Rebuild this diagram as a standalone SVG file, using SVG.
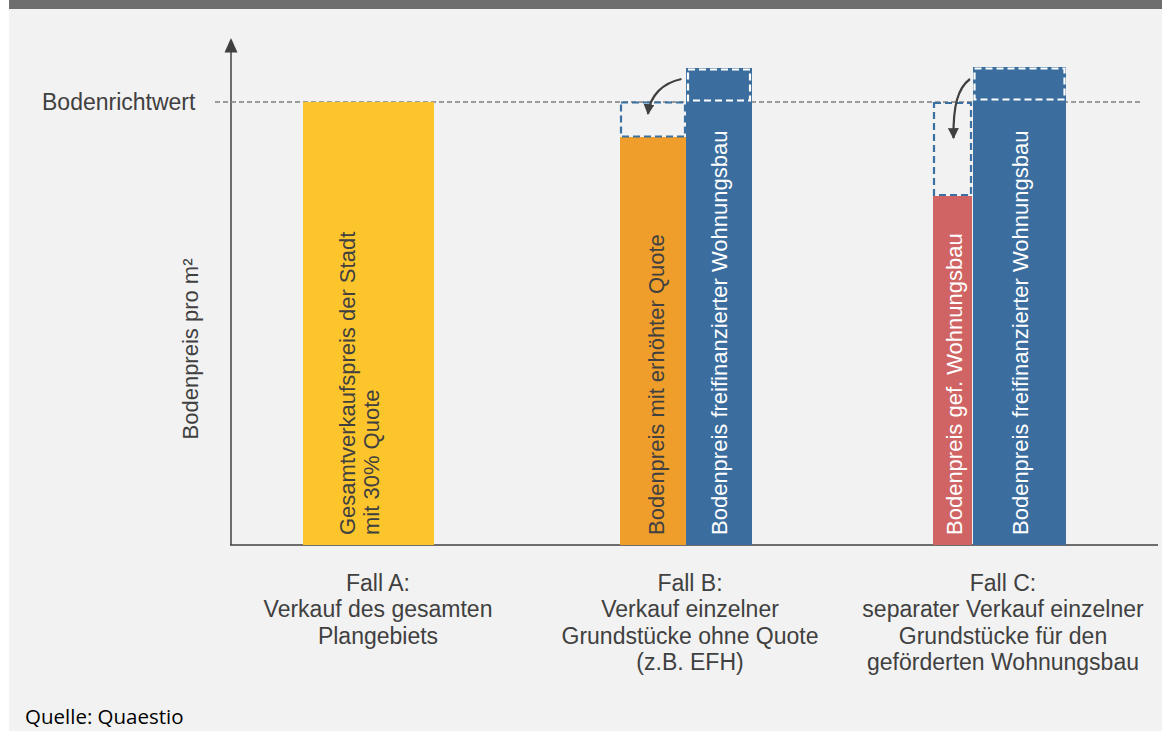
<svg xmlns="http://www.w3.org/2000/svg" width="1162" height="731" viewBox="0 0 1162 731">
<defs>
<style>
.t{font-family:"Liberation Sans",Arial,sans-serif;font-size:23px;fill:#404040}
.v{font-size:22px}
.w{fill:#ffffff}
.c{text-anchor:middle}
.ax{stroke:#404040;stroke-width:1.5;fill:none}
.bd{fill:none;stroke:#3b70a2;stroke-width:2.2;stroke-dasharray:7 4}
.wd{fill:none;stroke:#ffffff;stroke-width:2.2;stroke-dasharray:7 4}
.cu{fill:none;stroke:#404040;stroke-width:2.2}
</style>
<marker id="ah" viewBox="0 0 10 10" refX="9" refY="5" markerWidth="5" markerHeight="5" orient="auto" markerUnits="strokeWidth">
<path d="M0,0 L10,5 L0,10 z" fill="#404040"/>
</marker>
</defs>
<rect x="0" y="0" width="1162" height="731" fill="#ffffff"/>
<rect x="9" y="0" width="1153" height="731" fill="#f2f2f2"/>
<rect x="9" y="0" width="1153" height="9" fill="#6e6e6e"/>

<g id="axes">
<line class="ax" x1="231" y1="50" x2="231" y2="545"/>
<path d="M231,38 L237.5,52.5 L224.5,52.5 z" fill="#404040"/>
<line class="ax" x1="230" y1="545" x2="1158" y2="545"/>
<line x1="215" y1="102" x2="1142" y2="102" stroke="#808080" stroke-width="1.3" stroke-dasharray="5 3"/>
<text class="t" x="42" y="110">Bodenrichtwert</text>
<text class="t v c" transform="translate(198,349) rotate(-90)">Bodenpreis pro m²</text>
</g>

<g id="barA">
<rect x="303" y="102" width="131" height="443" fill="#fdc52c"/>
<text class="t v" transform="translate(355,535) rotate(-90)">Gesamtverkaufspreis der Stadt</text>
<text class="t v" transform="translate(379,535) rotate(-90)">mit 30% Quote</text>
</g>

<g id="barB1">
<rect x="620" y="137" width="66" height="408" fill="#ef9e2b"/>
<rect class="bd" x="621" y="102.5" width="64" height="34"/>
<text class="t v" transform="translate(664,535) rotate(-90)">Bodenpreis mit erhöhter Quote</text>
</g>

<g id="barB2">
<rect x="686" y="68" width="66" height="477" fill="#3b6e9f"/>
<rect class="wd" x="688" y="69.5" width="62" height="31"/>
<text class="t v w" transform="translate(727,535) rotate(-90)">Bodenpreis freifinanzierter Wohnungsbau</text>
</g>

<g id="barC1">
<rect x="933" y="196" width="39" height="349" fill="#d06464"/>
<rect class="bd" x="934" y="103" width="37" height="92"/>
<text class="t v w" transform="translate(962,535) rotate(-90)">Bodenpreis gef. Wohnungsbau</text>
</g>

<g id="barC2">
<rect x="973" y="67" width="93" height="478" fill="#3b6e9f"/>
<rect class="wd" x="974.5" y="68.5" width="90" height="31"/>
<text class="t v w" transform="translate(1028,535) rotate(-90)">Bodenpreis freifinanzierter Wohnungsbau</text>
</g>

<g id="connectors">
<path class="cu" d="M681.5,79 C663,83 650,95 648,114" marker-end="url(#ah)"/>
<path class="cu" d="M970,79 C958,88 953,105 953.5,138" marker-end="url(#ah)"/>
</g>

<g id="labelA">
<text class="t c" x="378" y="591">Fall A:</text>
<text class="t c" x="378" y="617">Verkauf des gesamten</text>
<text class="t c" x="378" y="644">Plangebiets</text>
</g>
<g id="labelB">
<text class="t c" x="690" y="591">Fall B:</text>
<text class="t c" x="690" y="617">Verkauf einzelner</text>
<text class="t c" x="690" y="644">Grundstücke ohne Quote</text>
<text class="t c" x="690" y="670">(z.B. EFH)</text>
</g>
<g id="labelC">
<text class="t c" x="1003" y="591">Fall C:</text>
<text class="t c" x="1003" y="617">separater Verkauf einzelner</text>
<text class="t c" x="1003" y="644">Grundstücke für den</text>
<text class="t c" x="1003" y="670">geförderten Wohnungsbau</text>
</g>
<text x="25" y="724" font-family="'Open Sans','Noto Sans',sans-serif" font-size="20.5" fill="#000000">Quelle: Quaestio</text>
</svg>
